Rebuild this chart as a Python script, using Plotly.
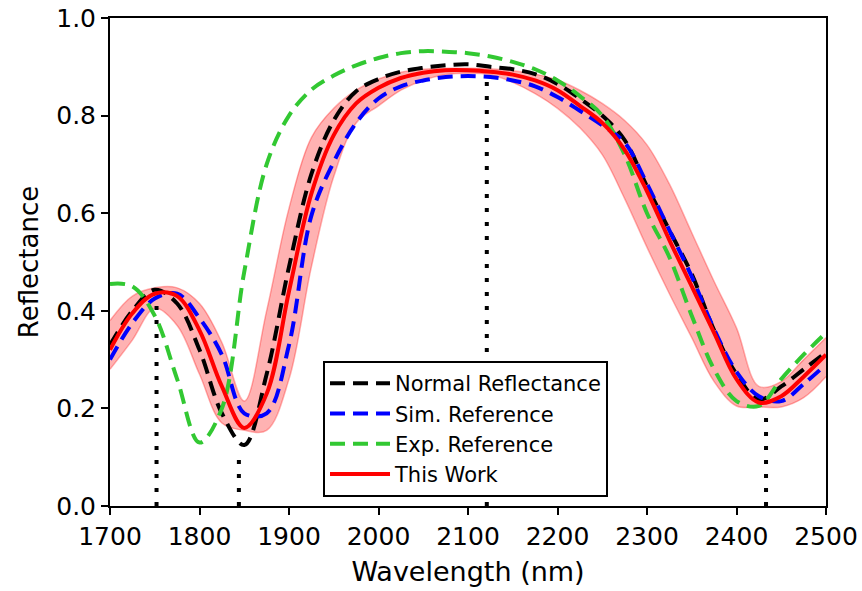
import plotly.graph_objects as go

# ---------------- data ----------------
wavelength = [1700, 1725, 1750, 1775, 1800, 1825, 1850, 1875, 1900, 1925, 1950,
              1975, 2000, 2025, 2050, 2075, 2100, 2125, 2150, 2175, 2200, 2225,
              2250, 2275, 2300, 2325, 2350, 2375, 2400, 2425, 2450, 2475, 2500]

normal_reflectance = [0.33, 0.40, 0.443, 0.415, 0.32, 0.19, 0.125, 0.27, 0.49, 0.68, 0.79,
                      0.85, 0.875, 0.89, 0.898, 0.903, 0.905, 0.90, 0.895, 0.885, 0.865, 0.835,
                      0.80, 0.75, 0.655, 0.565, 0.475, 0.36, 0.27, 0.218, 0.245, 0.28, 0.315]

sim_reference = [0.30, 0.375, 0.425, 0.435, 0.385, 0.31, 0.19, 0.19, 0.33, 0.595, 0.705,
                 0.785, 0.835, 0.86, 0.872, 0.879, 0.881, 0.879, 0.872, 0.86, 0.838, 0.81,
                 0.78, 0.745, 0.66, 0.565, 0.47, 0.362, 0.275, 0.225, 0.215, 0.25, 0.29]

exp_reference = [0.455, 0.45, 0.39, 0.26, 0.13, 0.20, 0.48, 0.70, 0.80, 0.853, 0.882,
                 0.903, 0.918, 0.928, 0.932, 0.931, 0.928, 0.921, 0.91, 0.895, 0.872, 0.84,
                 0.80, 0.72, 0.60, 0.51, 0.39, 0.28, 0.215, 0.205, 0.26, 0.31, 0.355]

this_work = [0.32, 0.395, 0.435, 0.43, 0.36, 0.245, 0.16, 0.23, 0.44, 0.64, 0.76,
             0.825, 0.857, 0.877, 0.888, 0.893, 0.893, 0.89, 0.884, 0.872, 0.852, 0.82,
             0.785, 0.73, 0.645, 0.545, 0.45, 0.355, 0.26, 0.212, 0.225, 0.265, 0.31]

this_work_upper = [0.38, 0.43, 0.447, 0.447, 0.415, 0.335, 0.215, 0.40, 0.61, 0.755, 0.815,
                   0.852, 0.875, 0.889, 0.895, 0.897, 0.897, 0.896, 0.892, 0.885, 0.873, 0.852,
                   0.825, 0.79, 0.74, 0.66, 0.56, 0.46, 0.365, 0.245, 0.255, 0.30, 0.345]

this_work_lower = [0.28, 0.34, 0.405, 0.37, 0.27, 0.17, 0.155, 0.155, 0.26, 0.49, 0.675,
                   0.785, 0.82, 0.852, 0.872, 0.884, 0.887, 0.884, 0.868, 0.845, 0.815, 0.775,
                   0.72, 0.63, 0.53, 0.435, 0.345, 0.255, 0.205, 0.203, 0.203, 0.222, 0.265]

marker_wavelengths = [1752, 1844, 2121, 2433]
marker_values = [0.43, 0.11, 0.88, 0.20]

x_ticks = [1700, 1800, 1900, 2000, 2100, 2200, 2300, 2400, 2500]
y_ticks = [0.0, 0.2, 0.4, 0.6, 0.8, 1.0]

FONT = "DejaVu Sans"

fig = go.Figure()

# uncertainty band of "This Work"
fig.add_trace(go.Scatter(x=wavelength, y=this_work_lower, mode="lines",
                         line=dict(color="rgba(255,0,0,0.3)", width=1.5, shape="spline"),
                         showlegend=False, hoverinfo="skip"))
fig.add_trace(go.Scatter(x=wavelength, y=this_work_upper, mode="lines", fill="tonexty",
                         fillcolor="rgba(255,0,0,0.3)",
                         line=dict(color="rgba(255,0,0,0.3)", width=1.5, shape="spline"),
                         showlegend=False, hoverinfo="skip"))

# dotted vertical marker lines
for xv, yv in zip(marker_wavelengths, marker_values):
    fig.add_trace(go.Scatter(x=[xv, xv], y=[0, yv], mode="lines",
                             line=dict(color="black", width=4, dash="4px,10px"),
                             showlegend=False, hoverinfo="skip"))

dash = "15px,8px"
fig.add_trace(go.Scatter(x=wavelength, y=normal_reflectance, mode="lines",
                         name="Normal Reflectance", legendrank=1,
                         line=dict(color="black", width=4, dash=dash, shape="spline")))
fig.add_trace(go.Scatter(x=wavelength, y=sim_reference, mode="lines",
                         name="Sim. Reference", legendrank=2,
                         line=dict(color="blue", width=4, dash=dash, shape="spline")))
fig.add_trace(go.Scatter(x=wavelength, y=exp_reference, mode="lines",
                         name="Exp. Reference", legendrank=3,
                         line=dict(color="#32c832", width=4, dash=dash, shape="spline")))
fig.add_trace(go.Scatter(x=wavelength, y=this_work, mode="lines",
                         name="This Work", legendrank=4,
                         line=dict(color="red", width=4, shape="spline")))

axis_common = dict(showline=True, linecolor="black", linewidth=2, mirror=True,
                   ticks="outside", ticklen=7, tickwidth=2, tickcolor="black",
                   showgrid=False, zeroline=False, automargin=False,
                   tickfont=dict(family=FONT, size=25, color="black"))

fig.update_layout(
    width=862, height=591,
    margin=dict(l=110, r=36, t=18, b=85),
    paper_bgcolor="white", plot_bgcolor="white",
    font=dict(family=FONT, color="black"),
    xaxis=dict(range=[1700, 2500], tickvals=x_ticks,
               title=dict(text="Wavelength (nm)", font=dict(family=FONT, size=27), standoff=12),
               **axis_common),
    yaxis=dict(range=[0, 1], tickvals=y_ticks, tickformat=".1f",
               title=dict(text="Reflectance", font=dict(family=FONT, size=26), standoff=10),
               **axis_common),
    legend=dict(x=0.2975, y=0.297, xanchor="left", yanchor="top",
                traceorder="normal",
                bgcolor="white", bordercolor="black", borderwidth=2,
                font=dict(family=FONT, size=21, color="black"),
                itemwidth=60),
    showlegend=True,
)

fig.write_html("out.html")
